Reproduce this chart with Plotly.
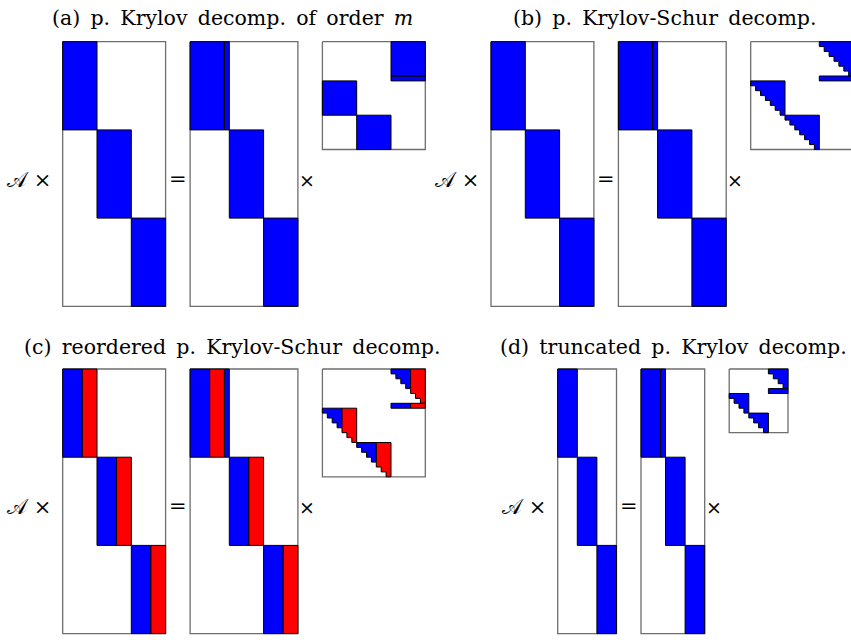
import plotly.graph_objects as go

# ---- data (block structure of each panel) ----
panel_titles = [
    "(a) p. Krylov decomp. of order <i>m</i>",
    "(b) p. Krylov-Schur decomp.",
    "(c) reordered p. Krylov-Schur decomp.",
    "(d) truncated p. Krylov decomp.",
]
block_order = [7, 7, 7, 4]        # m: columns per block
wanted_cols = [7, 7, 4, 4]        # blue columns per block
unwanted_cols = [0, 0, 3, 0]      # red columns per block
h_form = ["full", "schur", "schur", "schur"]
n_blocks = 3                      # period p
block_rows = 18                   # rows per block of V

# ---- layout (pixels, page coordinates) ----
W, H = 851, 640
U = 4.9          # pixels per matrix entry
GAP = 5          # gap between matrices, in entries
origins = [(62.7, 41.7), (491.0, 41.7), (62.7, 369.0), (557.7, 369.0)]
title_pos = [(232.8, 17.5), (664.7, 17.5), (232.0, 346.5), (673.0, 346.5)]
BLUE, RED = "#0000ff", "#ff0000"
EDGE = "#000000"
BORDER = "#6e6e6e"
SERIF = "DejaVu Serif"
WIDE_SPACE = "\u2002"

fig = go.Figure()
polys = {BLUE: ([], []), RED: ([], [])}
borders = ([], [])


def add_poly(color, pts, ox, oy):
    xs, ys = polys[color]
    for (c, r) in pts + [pts[0]]:
        xs.append(ox + U * c)
        ys.append(oy + U * r)
    xs.append(None)
    ys.append(None)


def rect(c0, r0, c1, r1):
    return [(c0, r0), (c1, r0), (c1, r1), (c0, r1)]


def triu_seg(c0, c1):
    pts = [(c0, 0), (c1, 0), (c1, c1)]
    for i in range(c1 - 1, c0 - 1, -1):
        pts.append((i, i + 1))
        pts.append((i, i))
    return pts


def add_border(ox, oy, ncols, nrows):
    xs, ys = borders
    for (c, r) in rect(0, 0, ncols, nrows) + [(0, 0)]:
        xs.append(ox + U * c)
        ys.append(oy + U * r)
    xs.append(None)
    ys.append(None)


annots = []
for k in range(4):
    m = block_order[k]
    segs = [(BLUE, 0, wanted_cols[k])]
    if unwanted_cols[k]:
        segs.append((RED, wanted_cols[k], wanted_cols[k] + unwanted_cols[k]))
    ox, oy = origins[k]
    tall = n_blocks * block_rows

    # left matrix V_k
    add_border(ox, oy, n_blocks * m, tall)
    for j in range(n_blocks):
        for col, c0, c1 in segs:
            add_poly(col, rect(j * m + c0, j * block_rows, j * m + c1, (j + 1) * block_rows), ox, oy)

    # middle matrix V_{k+1} (one extra column in first block)
    mx = ox + U * (n_blocks * m + GAP)
    add_border(mx, oy, n_blocks * m + 1, tall)
    for j in range(n_blocks):
        off = 0 if j == 0 else j * m + 1
        for col, c0, c1 in segs:
            add_poly(col, rect(off + c0, j * block_rows, off + c1, (j + 1) * block_rows), mx, oy)
        if j == 0:
            add_poly(BLUE, rect(m, 0, m + 1, block_rows), mx, oy)

    # small matrix H
    sx = mx + U * (n_blocks * m + 1 + GAP)
    add_border(sx, oy, n_blocks * m, n_blocks * m + 1)
    for j in range(n_blocks):
        if j == 0:
            bc, br = (n_blocks - 1) * m, 0
        else:
            bc, br = (j - 1) * m, m + 1 + (j - 1) * m
        bx, by = sx + U * bc, oy + U * br
        for col, c0, c1 in segs:
            if h_form[k] == "full":
                add_poly(col, rect(c0, 0, c1, m), bx, by)
            else:
                add_poly(col, triu_seg(c0, c1), bx, by)
            if j == 0:
                add_poly(col, rect(c0, m, c1, m + 1), bx, by)

    # labels
    yc = oy + 138
    annots.append(dict(x=ox - 10, y=yc, text="𝒜 ×", xanchor="right", yanchor="middle",
                       font=dict(size=21, family=SERIF, color="black")))
    annots.append(dict(x=(ox + U * n_blocks * m + mx) / 2, y=yc - 1, text="=", xanchor="center",
                       yanchor="middle", font=dict(size=21, family=SERIF, color="black")))
    annots.append(dict(x=mx + U * (n_blocks * m + 1) + 9, y=yc, text="×", xanchor="center",
                       yanchor="middle", font=dict(size=19, family=SERIF, color="black")))
    tx, ty = title_pos[k]
    annots.append(dict(x=tx, y=ty, text=panel_titles[k].replace(" ", WIDE_SPACE),
                       xanchor="center", yanchor="middle",
                       font=dict(size=20.5, family=SERIF, color="black")))

fig.add_trace(go.Scatter(x=borders[0], y=borders[1], mode="lines",
                         line=dict(color=BORDER, width=1.3), hoverinfo="skip", showlegend=False))
for col in (BLUE, RED):
    xs, ys = polys[col]
    if xs:
        fig.add_trace(go.Scatter(x=xs, y=ys, mode="lines", fill="toself", fillcolor=col,
                                 line=dict(color=EDGE, width=1), hoverinfo="skip", showlegend=False))

for a in annots:
    a.update(xref="x", yref="y", showarrow=False)
fig.update_layout(
    width=W, height=H, margin=dict(l=0, r=0, t=0, b=0),
    paper_bgcolor="white", plot_bgcolor="white",
    xaxis=dict(range=[0, W], visible=False, fixedrange=True),
    yaxis=dict(range=[H, 0], visible=False, fixedrange=True),
    annotations=annots,
)
fig.write_html("out.html", config={"displayModeBar": False},
               post_script="document.body.style.margin='0';")
